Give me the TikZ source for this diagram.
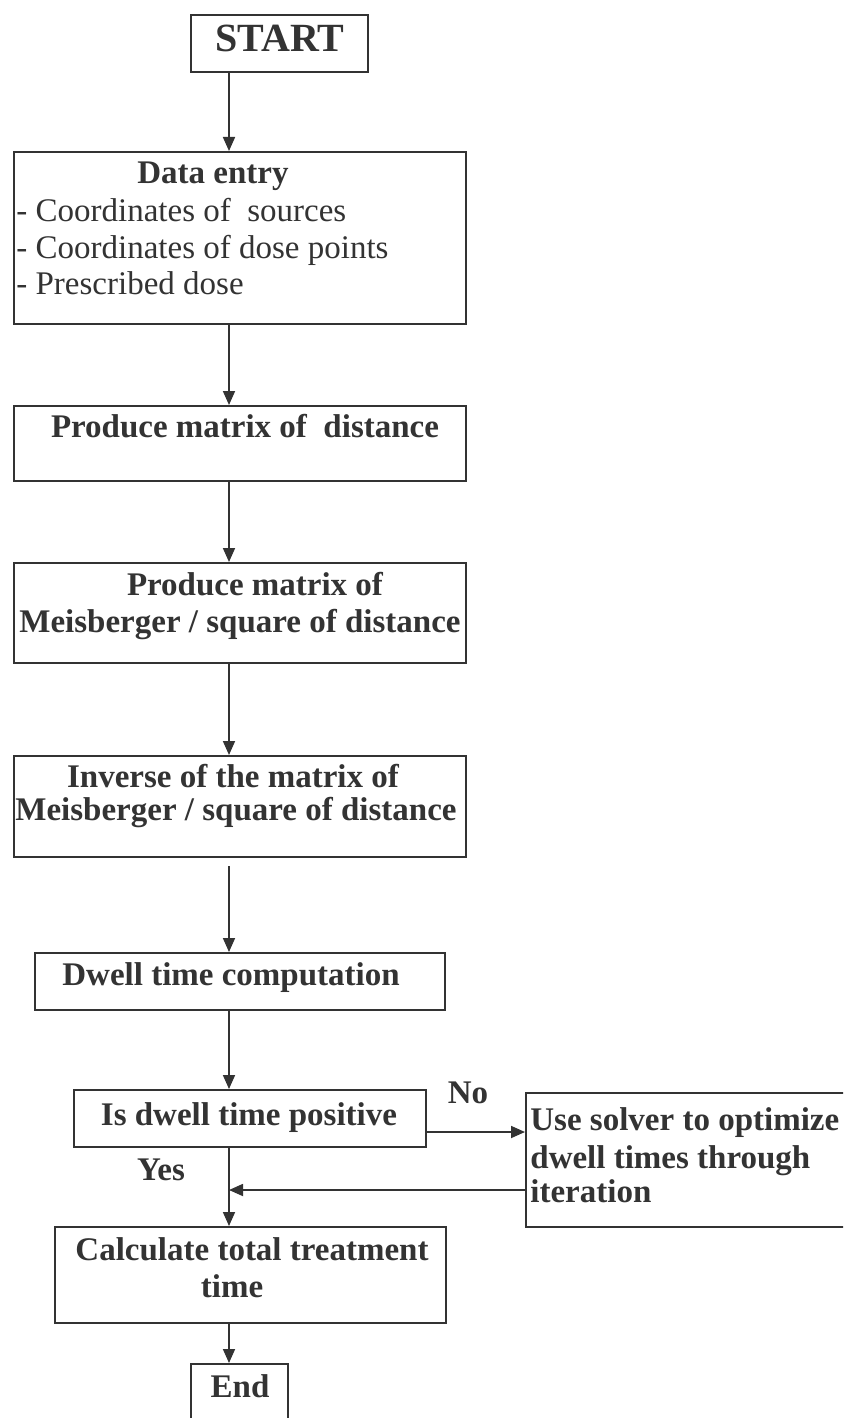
\documentclass[tikz,border=0pt]{standalone}
\usepackage{fontspec}
\setmainfont{Liberation Serif}
\usetikzlibrary{arrows.meta}
\definecolor{ink}{HTML}{333333}
\begin{document}
\begin{tikzpicture}[x=0.5pt,y=-0.5pt,
  box/.style={draw=ink,line width=1pt,inner sep=0pt},
  lbl/.style={text=ink,inner sep=0pt,anchor=base,font=\fontsize{16.5}{18}\selectfont\bfseries},
  plain/.style={text=ink,inner sep=0pt,anchor=base west,font=\fontsize{16.5}{18}\selectfont},
  lblw/.style={lbl,anchor=base west},
  arr/.style={draw=ink,line width=0.85pt,-{Triangle[length=7pt,width=6pt]}}]
\useasboundingbox (0,0) rectangle (843,1418);
\clip (0,0) rectangle (843,1418);
\fill[white] (0,0) rectangle (843,1418);
\coordinate (ax) at (229,0);
\coordinate (noy) at (0,1132);
\coordinate (rety) at (0,1190);
% boxes
\node[box,minimum width=88.5pt,minimum height=28.5pt] (start) at (279.5,43.5) {};
\node[box,minimum width=226pt,minimum height=86pt] (data) at (240,238) {};
\node[box,minimum width=226pt,minimum height=37.5pt] (dist) at (240,443.5) {};
\node[box,minimum width=226pt,minimum height=50pt] (meis) at (240,613) {};
\node[box,minimum width=226pt,minimum height=50.5pt] (inv) at (240,806.5) {};
\node[box,minimum width=205pt,minimum height=28.5pt] (dwell) at (240,981.5) {};
\node[box,minimum width=176pt,minimum height=28.5pt] (isd) at (250,1118.5) {};
\node[box,minimum width=177pt,minimum height=67pt] (solver) at (703,1160) {};
\node[box,minimum width=195.5pt,minimum height=48pt] (calc) at (250.5,1275) {};
\node[box,minimum width=48.5pt,minimum height=38pt] (end) at (239.5,1402) {};
% texts
\node[lbl,font=\fontsize{20}{22}\selectfont\bfseries] (tstart) at (280,52) {START};
\node[lbl] (tdata) at (213,184) {Data entry};
\node[plain] (tdata1) at (16,221) {- Coordinates of\ \ sources};
\node[plain] (tdata2) at (16,258) {- Coordinates of dose points};
\node[plain] (tdata3) at (16,294) {- Prescribed dose};
\node[lbl] (tdist) at (245,437) {Produce matrix of\ \ distance};
\node[lbl] (tmeis1) at (255,595) {Produce matrix of};
\node[lbl] (tmeis2) at (240,632) {Meisberger / square of distance};
\node[lbl] (tinv1) at (233,787) {Inverse of the matrix of};
\node[lbl] (tinv2) at (236,820) {Meisberger / square of distance};
\node[lbl] (tdwell) at (231,985) {Dwell time computation};
\node[lbl] (tisd) at (249,1125) {Is dwell time positive};
\node[lbl] (tno) at (468,1103) {No};
\node[lbl] (tyes) at (161,1180) {Yes};
\node[lblw] (tsol1) at (530,1130) {Use solver to optimize};
\node[lblw] (tsol2) at (530,1168) {dwell times through};
\node[lblw] (tsol3) at (530,1202) {iteration};
\node[lbl] (tcalc1) at (252,1260) {Calculate total treatment};
\node[lbl] (tcalc2) at (232,1297) {time};
\node[lbl] (tend) at (240,1397) {End};
% connectors
\draw[arr] (start.south -| ax) -- (data.north -| ax);
\draw[arr] (data.south -| ax) -- (dist.north -| ax);
\draw[arr] (dist.south -| ax) -- (meis.north -| ax);
\draw[arr] (meis.south -| ax) -- (inv.north -| ax);
\draw[arr,shorten <=4pt] (inv.south -| ax) -- (dwell.north -| ax);
\draw[arr] (dwell.south -| ax) -- (isd.north -| ax);
\draw[arr] (isd.south -| ax) -- (calc.north -| ax);
\draw[arr] (isd.east |- noy) -- (solver.west |- noy);
\draw[arr] (solver.west |- rety) -- (ax |- rety);
\draw[arr] (calc.south -| ax) -- (end.north -| ax);
\end{tikzpicture}
\end{document}
